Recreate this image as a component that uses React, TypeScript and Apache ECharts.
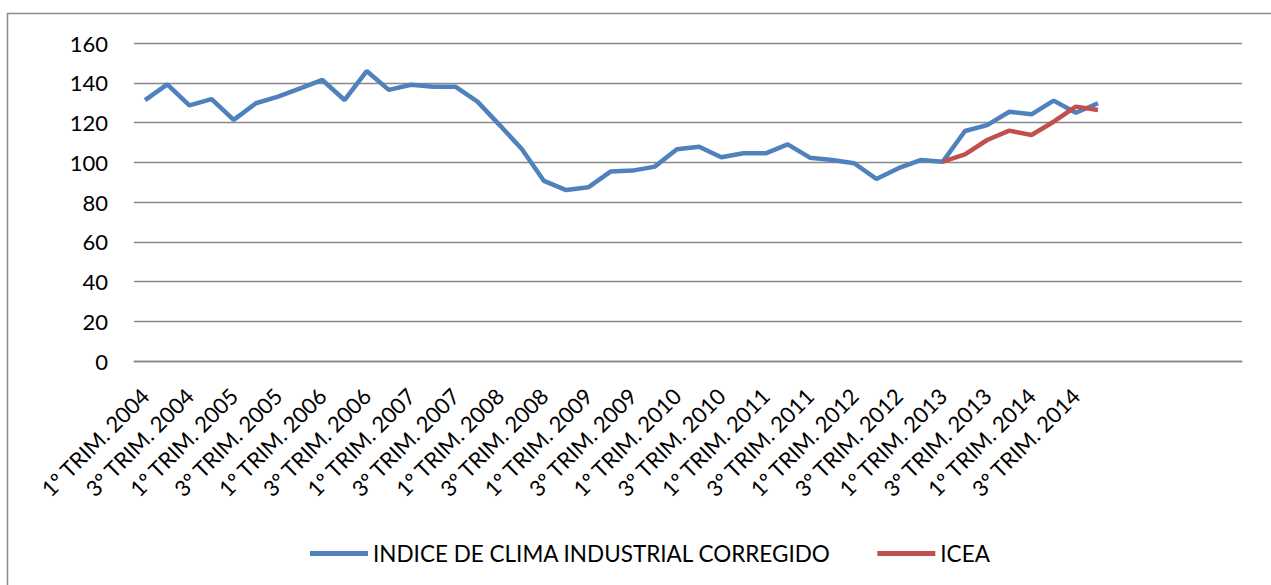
import React, { useEffect, useRef } from "react";
import * as echarts from "echarts";

const categories: string[] = [
  "1º TRIM. 2004", "2º TRIM. 2004", "3º TRIM. 2004", "4º TRIM. 2004",
  "1º TRIM. 2005", "2º TRIM. 2005", "3º TRIM. 2005", "4º TRIM. 2005",
  "1º TRIM. 2006", "2º TRIM. 2006", "3º TRIM. 2006", "4º TRIM. 2006",
  "1º TRIM. 2007", "2º TRIM. 2007", "3º TRIM. 2007", "4º TRIM. 2007",
  "1º TRIM. 2008", "2º TRIM. 2008", "3º TRIM. 2008", "4º TRIM. 2008",
  "1º TRIM. 2009", "2º TRIM. 2009", "3º TRIM. 2009", "4º TRIM. 2009",
  "1º TRIM. 2010", "2º TRIM. 2010", "3º TRIM. 2010", "4º TRIM. 2010",
  "1º TRIM. 2011", "2º TRIM. 2011", "3º TRIM. 2011", "4º TRIM. 2011",
  "1º TRIM. 2012", "2º TRIM. 2012", "3º TRIM. 2012", "4º TRIM. 2012",
  "1º TRIM. 2013", "2º TRIM. 2013", "3º TRIM. 2013", "4º TRIM. 2013",
  "1º TRIM. 2014", "2º TRIM. 2014", "3º TRIM. 2014", "4º TRIM. 2014",
  "", "", "", "", "", "",
];

const indiceClima: (number | null)[] = [
  131.3, 139.2, 128.6, 131.8, 121.3, 129.7, 133, 137.2, 141.4, 131.3, 145.9,
  136.4, 139, 138, 138, 130.5, 118.7, 106.7, 90.6, 86, 87.4, 95.3, 95.8, 97.8,
  106.5, 107.8, 102.5, 104.5, 104.5, 109, 102.3, 101.1, 99.5, 91.6, 97, 101.1,
  100.3, 115.7, 118.7, 125.4, 124.1, 131, 124.9, 129.7,
];

const icea: (number | null)[] = [
  null, null, null, null, null, null, null, null, null, null, null, null,
  null, null, null, null, null, null, null, null, null, null, null, null,
  null, null, null, null, null, null, null, null, null, null, null, null,
  100.3, 104, 111.2, 115.9, 113.7, 120.4, 128, 126.3,
];

const seriesNames = ["INDICE DE CLIMA INDUSTRIAL CORREGIDO", "ICEA"];
const yTicks = { min: 0, max: 160, interval: 20 };

export default function App() {
  const ref = useRef<HTMLDivElement>(null);
  useEffect(() => {
    document.body.style.margin = "0";
    if (!ref.current) return;
    const chart = echarts.init(ref.current, null, { renderer: "svg" });
    const font = "Lato, 'Open Sans', sans-serif";
    chart.setOption({
      animation: false,
      backgroundColor: "#ffffff",
      textStyle: { fontFamily: font, color: "#000" },
      graphic: [
        {
          type: "rect",
          shape: { x: 7.5, y: 13.5, width: 1300, height: 620 },
          style: { fill: "none", stroke: "#8c8c8c", lineWidth: 1.5 },
          silent: true,
        },
      ],
      grid: { left: 134, right: 29, top: 43, bottom: 224, containLabel: false },
      legend: {
        left: 305,
        top: 537,
        itemWidth: 58,
        itemHeight: 5,
        itemGap: 46,
        icon: "rect",
        textStyle: { fontFamily: font, fontSize: 22.5, color: "#000" },
        data: seriesNames,
      },
      xAxis: {
        type: "category",
        data: categories,
        boundaryGap: true,
        axisLine: { show: true, lineStyle: { color: "#888", width: 1.3 } },
        axisTick: { show: false },
        axisLabel: {
          interval: 1,
          rotate: 45,
          margin: 31,
          fontFamily: font,
          fontSize: 22,
          color: "#000",
        },
      },
      yAxis: {
        type: "value",
        min: yTicks.min,
        max: yTicks.max,
        interval: yTicks.interval,
        axisLine: { show: false },
        axisTick: { show: false },
        axisLabel: { margin: 26, fontFamily: font, fontSize: 22, color: "#000" },
        splitLine: { show: true, lineStyle: { color: "#888", width: 1.3 } },
      },
      series: [
        {
          name: seriesNames[0],
          type: "line",
          data: indiceClima,
          symbol: "none",
          lineStyle: { color: "#4F81BD", width: 4.5 },
          itemStyle: { color: "#4F81BD" },
          z: 2,
        },
        {
          name: seriesNames[1],
          type: "line",
          data: icea,
          symbol: "none",
          lineStyle: { color: "#C0504D", width: 4.5 },
          itemStyle: { color: "#C0504D" },
          z: 3,
        },
      ],
    });
    return () => chart.dispose();
  }, []);
  return <div ref={ref} style={{ width: 1271, height: 585 }} />;
}
